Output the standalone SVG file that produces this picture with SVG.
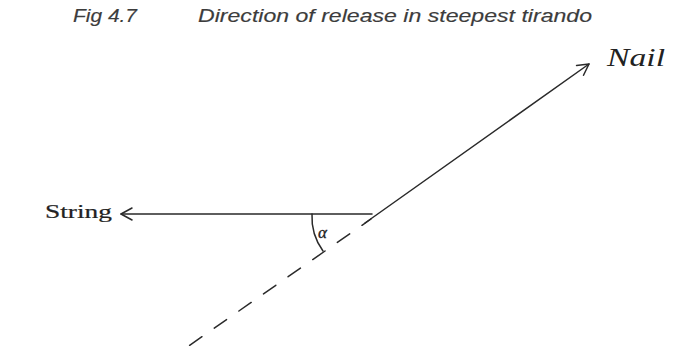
<svg xmlns="http://www.w3.org/2000/svg" width="676" height="354" viewBox="0 0 676 354">
<style>
.title{font-family:"Liberation Sans",Arial,sans-serif;font-style:italic;font-size:18px;fill:#3c3c3c;stroke:#3c3c3c;stroke-width:0.15}
.hand{font-family:"Liberation Serif","DejaVu Serif",serif;fill:#222}
.ln{stroke:#2a2a2a;stroke-width:1.5;fill:none;stroke-linecap:round}
</style>
<defs>
<marker id="open" viewBox="0 0 14 14" refX="13" refY="7" markerWidth="14" markerHeight="14" markerUnits="userSpaceOnUse" orient="auto">
<path d="M2,1 L13,7 L2,13" fill="none" stroke="#2a2a2a" stroke-width="1.5" stroke-linecap="round" stroke-linejoin="round"/>
</marker>
</defs>
<rect width="676" height="354" fill="#fff"/>
<g id="title">
<text class="title" x="73" y="22" textLength="64" lengthAdjust="spacingAndGlyphs">Fig 4.7</text>
<text class="title" x="198" y="22" textLength="394" lengthAdjust="spacingAndGlyphs">Direction of release in steepest tirando</text>
</g>
<g id="connectors">
<line id="string-arrow" class="ln" x1="372" y1="214" x2="121" y2="214" marker-end="url(#open)"/>
<line id="nail-arrow" class="ln" x1="365" y1="223" x2="589" y2="64" marker-end="url(#open)"/>
<line id="extension" class="ln" x1="371" y1="219" x2="180" y2="352" stroke-dasharray="15 15" stroke-dashoffset="4"/>
<path id="angle-arc" class="ln" d="M312,214 A58,58 0 0 0 323,251"/>
</g>
<g id="node-string">
<text class="hand" x="45" y="218" font-size="19" stroke="#222" stroke-width="0.2" textLength="67" lengthAdjust="spacingAndGlyphs">String</text>
</g>
<g id="node-nail">
<text class="hand" x="607" y="66" font-size="25" font-style="italic" textLength="58" lengthAdjust="spacingAndGlyphs">Nail</text>
</g>
<g id="label-alpha">
<text class="hand" x="318" y="238" font-size="17" font-style="italic" stroke="#222" stroke-width="0.3">α</text>
</g>
</svg>
